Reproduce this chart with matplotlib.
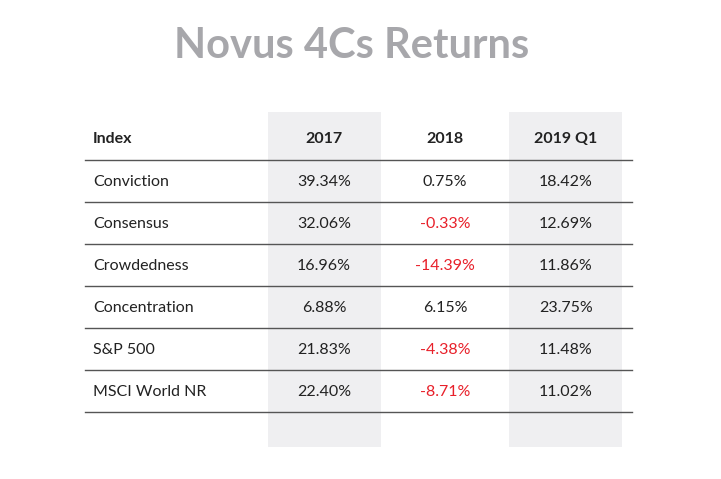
import matplotlib.pyplot as plt
from matplotlib.patches import Rectangle

title = 'Novus 4Cs Returns'
columns = ['Index', '2017', '2018', '2019 Q1']
indices = ['Conviction', 'Consensus', 'Crowdedness', 'Concentration', 'S&P 500', 'MSCI World NR']
r2017 = [39.34, 32.06, 16.96, 6.88, 21.83, 22.40]
r2018 = [0.75, -0.33, -14.39, 6.15, -4.38, -8.71]
r2019q1 = [18.42, 12.69, 11.86, 23.75, 11.48, 11.02]

plt.rcParams['font.family'] = 'Lato'
fig = plt.figure(figsize=(7.21, 4.79), dpi=100)
ax = fig.add_axes([0, 0, 1, 1])
ax.set_xlim(0, 721)
ax.set_ylim(479, 0)
ax.axis('off')

ax.text(352, 46, title, ha='center', va='center', fontsize=30, fontweight='bold', color='#a7a7ab')

# shaded columns
for x0 in (268, 509):
    ax.add_patch(Rectangle((x0, 112), 113, 335, color='#efeff1', lw=0))

col_x = [93, 324, 445, 566]
header_y = 139
ax.text(col_x[0], header_y, columns[0], ha='left', va='center', fontsize=11.5, fontweight='bold', color='#222222')
for cx, c in zip(col_x[1:], columns[1:]):
    ax.text(cx, header_y, c, ha='center', va='center', fontsize=11.5, fontweight='bold', color='#222222')

row_h = 42
for i, name in enumerate(indices):
    y = 182 + i * row_h
    ax.text(col_x[0], y, name, ha='left', va='center', fontsize=11.5, color='#222222')
    for cx, v in zip(col_x[1:], (r2017[i], r2018[i], r2019q1[i])):
        ax.text(cx, y, f'{v:.2f}%', ha='center', va='center', fontsize=11.5,
                color='#e8202a' if v < 0 else '#222222')

for i in range(len(indices) + 1):
    y = 160 + i * row_h
    ax.plot([85, 632], [y, y], color='#555555', lw=1)

fig.savefig('out.png', dpi=100)
